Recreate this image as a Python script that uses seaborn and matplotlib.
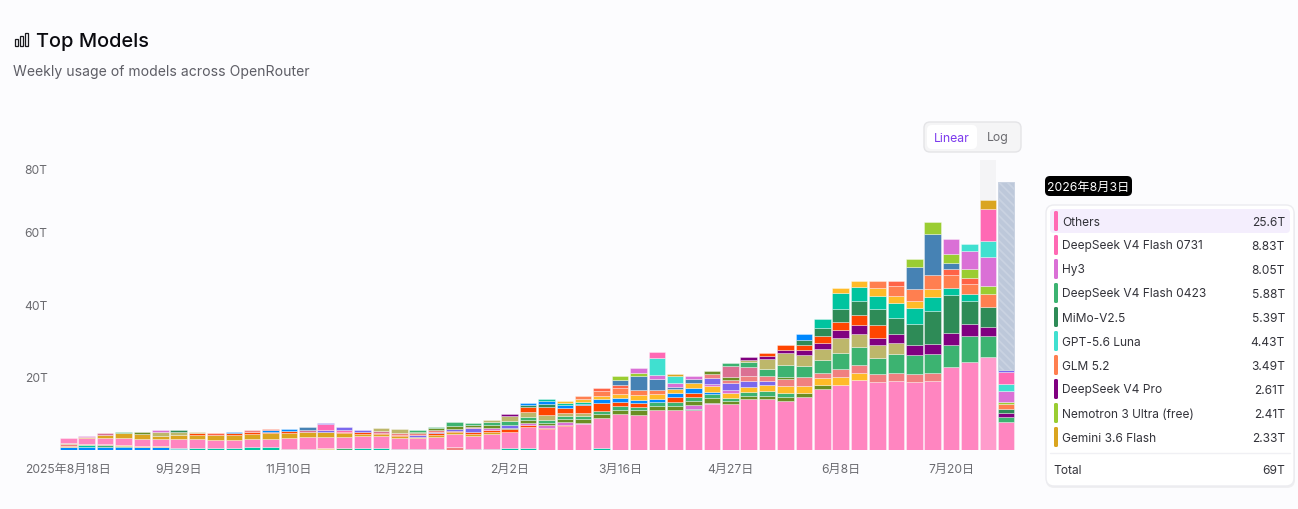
import numpy as np
import pandas as pd
import matplotlib.pyplot as plt
from matplotlib.patches import FancyBboxPatch, Rectangle
from matplotlib.transforms import ScaledTranslation
import seaborn as sns

sns.set_theme(style='white')
plt.rcParams['font.family'] = ['Inter', 'Noto Sans CJK SC', 'DejaVu Sans']
plt.rcParams['hatch.linewidth'] = 1.3

# weekly usage in trillions, one list per stacked layer, bottom layer first
blue_low = [.74, .92, .92, .74, .83, .83, .28] + [0]*45
teal_low = [0, .46, 0, 0, 0, 0, .37, .64, .64, .64, .74, .74, 0, 0, 0, 0, .64, .64, .28, .28, .2, 0, .37, .37, .46, .55, 0, 0, 0, .46] + [0]*22
green_low = [0, 0, .37, .46] + [0]*8 + [.37, .37, .37, .46] + [0]*36
amber_low = [.37, 0, 0, .2, .37, .37] + [0]*8 + [.2] + [0]*37
salmon_low = [.55, 0, .37] + [0]*18 + [.74] + [0]*30
khaki_low = [.37, .28] + [0]*50
others = [1.2, 1.56, 1.56, 2.03, 1.93, 1.75, 2.3, 2.3, 2.12, 2.12, 2.21, 2.39, 2.95, 3.31, 3.0, 3.22, 3.13, 3.32, 3.13, 2.95,
          3.3, 3.59, 3.41, 4.14, 4.6, 5.8, 5.71, 6.54, 7.18, 8.29, 10.04, 9.76, 11.05, 11.14, 11.05, 12.62, 12.62, 14.09, 14.09,
          13.54, 14.73, 16.76, 17.96, 19.43, 18.69, 18.97, 18.78, 18.97, 22.84, 24.3, 25.6, 7.64]
goldenrod_a = [0, .46, .92, 1.2, 1.2, 1.01, 1.1, 1.29, 1.29, 1.47, 1.47, 1.47, 1.47, 1.29, 1.29, .92, .64, .46, .46, .46, .64, .55, .74, .46] + [0]*28
redorange_a = [0]*7 + [.37, 0, .37, .55, .46, .37, 0, 0, .46, .46, .37, .28, 0, .46, .37, .55, .64, .64, .55, .46, .37] + [0]*24
seagreen_a = [0]*34 + [.37] + [0]*17
orchid_a = [0, .28] + [0]*21 + [.55, 0, .64, .64, .74, .37] + [0]*5 + [.92, .46] + [0]*16
olive_a = [0]*23 + [.64, .46, .83, .64, .83, .92, 1.1, 1.1, 1.29, 1.1, 1.1, 1.29, 1.2, .92, .92, .92, 1.0, 1.1, 1.2] + [0]*10
green_a = [0]*23 + [.92, 0, .74, .92, 1.01, 1.01, 1.01, 1.01, .92, 1.01, 1.1, 1.1, 1.2, .92, 1.01, 1.29, 1.3] + [0]*12
redorange_c = [0]*29 + [2.12, 1.2, .92, 0, 1.2, 1.01] + [0]*17
blue_b = [0]*9 + [.37, 0, .46, .74] + [0]*16 + [1.01, 1.1, 1.01, 1.01, 1.2, 1.29, .64] + [0]*16
amber_a = [0]*29 + [.92, 1.01, 1.38, 1.2, 1.2, 1.38, 1.47, 1.38, 1.29, 1.57, 1.84, 1.93, 1.84, 2.12, 1.75] + [0]*8
orchid_b = [0]*35 + [.64, .74] + [0]*15
slate_a = [0]*14 + [.55, 0, .74, 0, 0, .46, .46, .64, .92, 0, .64] + [0]*10 + [1.57, 1.84, 1.84, 1.2] + [0]*13
salmon_a = [0]*10 + [.55] + [0]*7 + [.64, .46, .46, 0, .37] + [0]*12 + [1.2, .92, 1.2, 1.38, 1.84, 2.3, 1.38, 2.39, 2.39, 2.3, 2.21, 2.21, 2.21] + [0]*4
olive_b = [0]*4 + [.55] + [0]*14 + [.46, .46, .74, .64] + [0]*12 + [.74, .74, 0, 0, .55] + [0]*12
violet_red = [0, 0, .55] + [0]*10 + [.55] + [0]*3 + [.55] + [0]*18 + [3.13, 2.67] + [0]*14
green_b = [0, 0, 0, .37] + [0]*15 + [.46, .46, 1.01, .55, 0, 1.2] + [0]*11 + [.74, 1.2, 1.93, 3.41, 3.22, 3.78, 4.42, 4.97, 4.51, 5.43, 5.25, 5.43, 6.26, 7.18, 5.88, 1.57]
khaki = [0]*5 + [1.1, 1.01, .46] + [0]*9 + [.64, .92] + [0]*4 + [.55, 1.29, 1.29, 1.2, .74, .83] + [0]*8 + [.74, 2.76, 3.22, 2.85, 2.85, 4.05, 3.59, 3.5, 3.04] + [0]*6
purple = [0]*24 + [.55] + [0]*12 + [.83, .92, 1.0, 1.38, 1.66, 2.12, 2.49, 2.03, 2.39, 2.85, 2.67, 3.22, 3.31, 2.61, .92]
redorange_b = [0]*25 + [1.38, 2.39, 1.47, 2.03] + [0]*9 + [.83, 1.29, 1.57, 2.12, 2.39, 2.58, 3.41] + [0]*7
seagreen_b = [0]*6 + [.46] + [0]*18 + [.74, .74] + [0]*13 + [1.38, 2.12, 3.59, 3.96, 4.6, 4.42, 5.8, 9.21, 10.5, 6.26, 5.39, 1.29]
blue_a = [0]*25 + [.55, .74, .74, .46] + [0]*11 + [1.47] + [0]*11
teal_a = [0]*26 + [.55, .64, .46] + [0]*12 + [2.49, 4.33, 3.78, 3.59, 4.05, 4.42, 3.87, 2.03, 2.03] + [0]*2
amber_b = [0]*27 + [.55, .83] + [0]*13 + [1.29, 1.75, 2.03, 2.12, 1.93, 2.12] + [0]*4
coral = [0]*28 + [.74, 1.38, 1.66, 1.2, 1.2] + [0]*11 + [2.12, 2.58, 3.22, 3.78, 3.41, 2.76, 3.49, 1.2]
tomato = [0]*8 + [.55, 0, 0, .37] + [0]*17 + [.74, .74] + [0]*14 + [1.57, 0, 0, 1.75, 1.66] + [0]*2
steel = [0]*13 + [.74] + [0]*16 + [1.47, 3.96, 3.04, .55, 1.1] + [0]*11 + [6.17, 11.42, 1.75] + [0]*3
yellowgreen = [0]*30 + [1.01, .92] + [0]*14 + [2.03, 3.22, 2.39, 2.49, 2.41, .55]
orchid_c = [0]*5 + [.37] + [0]*25 + [1.29, 1.1, 1.1, 1.01] + [0]*13 + [4.05, 4.88, 8.05, 3.22]
turquoise = [0]*32 + [4.79, 1.84] + [0]*15 + [1.93, 4.43, 1.75]
hotpink = [0]*14 + [1.75, .55] + [0]*16 + [1.57] + [0]*17 + [8.83, 3.4]
slate_top = [0]*14 + [.3, .65] + [0]*35 + [.55]
goldenrod_top = [0]*33 + [.55] + [0]*16 + [2.33, 0]
projected = [0]*51 + [52.0]

layers = [
    ('blue_low', blue_low, '#0088FE'), ('teal_low', teal_low, '#00C49F'), ('green_low', green_low, '#3CB371'),
    ('amber_low', amber_low, '#FFBB28'), ('salmon_low', salmon_low, '#F08080'), ('khaki_low', khaki_low, '#BDB76B'),
    ('others', others, '#FF85C0'), ('goldenrod_a', goldenrod_a, '#DAA520'), ('redorange_a', redorange_a, '#FF4500'),
    ('seagreen_a', seagreen_a, '#2E8B57'), ('orchid_a', orchid_a, '#DA70D6'), ('olive_a', olive_a, '#6B8E23'),
    ('green_a', green_a, '#3CB371'), ('redorange_c', redorange_c, '#FF4500'), ('blue_b', blue_b, '#0088FE'),
    ('amber_a', amber_a, '#FFBB28'), ('orchid_b', orchid_b, '#DA70D6'), ('slate_a', slate_a, '#7B68EE'),
    ('salmon_a', salmon_a, '#F08080'), ('olive_b', olive_b, '#6B8E23'), ('violet_red', violet_red, '#DB7093'),
    ('green_b', green_b, '#3CB371'), ('khaki', khaki, '#BDB76B'), ('purple', purple, '#800080'),
    ('redorange_b', redorange_b, '#FF4500'), ('seagreen_b', seagreen_b, '#2E8B57'), ('blue_a', blue_a, '#0088FE'),
    ('teal_a', teal_a, '#00C49F'), ('amber_b', amber_b, '#FFBB28'), ('coral', coral, '#FF7F50'),
    ('tomato', tomato, '#FF6347'), ('steel', steel, '#4682B4'), ('yellowgreen', yellowgreen, '#9ACD32'),
    ('orchid_c', orchid_c, '#DA70D6'), ('turquoise', turquoise, '#40E0D0'), ('hotpink', hotpink, '#FF69B4'),
    ('slate_top', slate_top, '#7B68EE'), ('goldenrod_top', goldenrod_top, '#DAA520'), ('projected', projected, '#BEC9DC'),
]

week_dates = pd.date_range('2025-08-18', periods=52, freq='7D')
y_ticks = [20, 40, 60, 80]
tooltip_date = '2026年8月3日'
tooltip_names = ['Others', 'DeepSeek V4 Flash 0731', 'Hy3', 'DeepSeek V4 Flash 0423', 'MiMo-V2.5', 'GPT-5.6 Luna',
                 'GLM 5.2', 'DeepSeek V4 Pro', 'Nemotron 3 Ultra (free)', 'Gemini 3.6 Flash']
tooltip_values = ['25.6T', '8.83T', '8.05T', '5.88T', '5.39T', '4.43T', '3.49T', '2.61T', '2.41T', '2.33T']
tooltip_colors = ['#FF69B4', '#FF69B4', '#DA70D6', '#3CB371', '#2E8B57', '#40E0D0', '#FF7F50', '#800080', '#9ACD32', '#DAA520']
tooltip_total = '69T'

bg = '#FCFCFE'
W, H = 1298, 509

rows = []
for name, vals, _ in layers:
    assert len(vals) == 52, name
    for i, v in enumerate(vals):
        rows.append({'week': i, 'layer': name, 'value': v})
df = pd.DataFrame(rows)
palette = {name: c for name, _, c in layers}

fig = plt.figure(figsize=(W / 100, H / 100), dpi=100, facecolor=bg)

# axes placed so week 0 sits at 68.3 px and each week is 18.39 px wide
left_px, right_px, top_px, base_px = 58, 1018, 160.4, 450
ax = fig.add_axes([left_px / W, 1 - base_px / H, (right_px - left_px) / W, (base_px - top_px) / H], facecolor=bg)
# seaborn stacks the first hue level on top, so hand the layers over top first
sns.histplot(data=df, x='week', weights='value', hue='layer', hue_order=[l[0] for l in layers][::-1],
             multiple='stack', discrete=True, shrink=0.9, palette=palette, alpha=1,
             edgecolor=(1, 1, 1, 0.35), linewidth=0.7, legend=False, ax=ax)

for p in ax.patches:
    if p.get_height() <= 0:
        p.set_visible(False)
        continue
    xc = p.get_x() + p.get_width() / 2
    if np.isclose(p.get_height(), projected[-1]):
        p.set_facecolor('#BDC8DA')
        p.set_edgecolor('#C9D2E1')
        p.set_hatch('\\\\\\\\')
    if abs(xc - 50) < 0.1 and np.isclose(p.get_height(), others[50]):
        p.set_facecolor('#FF9CCC')

# hover band behind the hovered week
ax.bar(50, y_ticks[-1], width=0.9, color='#F4F4F6', zorder=0, linewidth=0)

ax.set_xlim((left_px - 68.3) / 18.39, (right_px - 68.3) / 18.39)
ax.set_ylim(0, 80)
sns.despine(ax=ax, left=True, bottom=True)
ax.set_xlabel('')
ax.set_ylabel('')
x_ticks = list(range(0, 49, 6))
x_labels = [f'{week_dates[i].year}年{week_dates[i].month}月{week_dates[i].day}日' if i == 0
            else f'{week_dates[i].month}月{week_dates[i].day}日' for i in x_ticks]
ax.set_xticks(x_ticks)
ax.set_xticklabels(x_labels)
ax.set_yticks(y_ticks)
ax.set_yticklabels([f'{t}T' for t in y_ticks])
ax.tick_params(axis='both', length=0, labelsize=8.7, labelcolor='#6B6B70')
ax.tick_params(axis='x', pad=10)
ax.tick_params(axis='y', pad=7.5)
# the top label sits a little below its gridline position
top_label = ax.get_yticklabels()[-1]
top_label.set_transform(top_label.get_transform() + ScaledTranslation(0, -9 / 100, fig.dpi_scale_trans))

# page furniture in pixel coordinates
ui = fig.add_axes([0, 0, 1, 1], zorder=10)
ui.set_xlim(0, W)
ui.set_ylim(H, 0)
ui.axis('off')


def rrect(x0, y0, x1, y1, r, fc, ec='none', lw=0, **kw):
    box = FancyBboxPatch((x0 + r, y0 + r), x1 - x0 - 2 * r, y1 - y0 - 2 * r,
                         boxstyle=f'round,pad={r},rounding_size={r}', fc=fc, ec=ec, lw=lw, **kw)
    ui.add_patch(box)


# icon
for x0, y0 in [(14.5, 39), (19.5, 36), (24.5, 33)]:
    ui.add_patch(Rectangle((x0, y0), 3.2, 45.5 - y0, fc='none', ec='#1A1A1E', lw=0.9))
ui.text(36, 47, 'Top Models', fontsize=14.4, color='#0A0A0F', va='baseline', ha='left', fontweight='medium')
ui.text(13, 76, 'Weekly usage of models across OpenRouter', fontsize=10.1, color='#5E5E66', va='baseline', ha='left')

# linear / log toggle
rrect(924, 122, 1021, 152, 6, '#F5F5F6', '#E4E4E7', 1)
rrect(927, 125, 977, 149, 5, '#FFFFFF')
ui.text(952, 141.5, 'Linear', fontsize=8.8, color='#7C3AED', va='baseline', ha='center')
ui.text(998, 141.5, 'Log', fontsize=8.8, color='#6B6B70', va='baseline', ha='center')

# tooltip
rrect(1045, 176, 1132, 196, 5, '#000000')
ui.text(1088.5, 190.5, tooltip_date, fontsize=8.8, color='#FFFFFF', va='baseline', ha='center')
rrect(1046, 207, 1295, 488, 8, '#000000', alpha=0.05)
rrect(1046, 205, 1294, 486, 8, '#FFFFFF', '#ECECF0', 1)
rrect(1050, 209, 1290, 233, 4, '#F4EEFD')
for i, (n, v, c) in enumerate(zip(tooltip_names, tooltip_values, tooltip_colors)):
    yc = 221 + 24 * i
    rrect(1054, yc - 10, 1058, yc + 10, 1.5, c)
    ui.text(1062, yc + 4.5, n, fontsize=8.6, color='#33333A', va='baseline', ha='left')
    ui.text(1285, yc + 4.5, v, fontsize=8.6, color='#33333A', va='baseline', ha='right')
ui.plot([1050, 1290], [453, 453], color='#F0F0F4', lw=1)
ui.text(1053, 474, 'Total', fontsize=8.6, color='#33333A', va='baseline', ha='left')
ui.text(1285, 474, tooltip_total, fontsize=8.6, color='#33333A', va='baseline', ha='right')

fig.savefig('out.png', dpi=100, facecolor=bg)
